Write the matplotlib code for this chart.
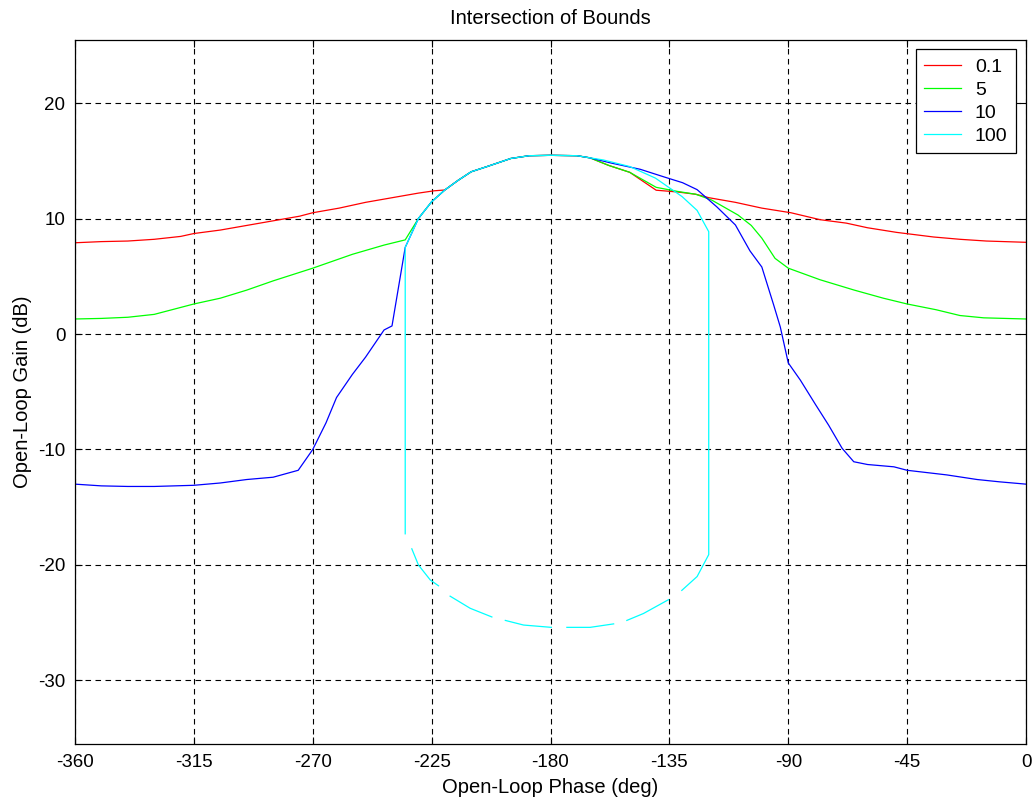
#!/usr/bin/env python3
"""Nichols-style 'Intersection of Bounds' plot, redrawn from the reference picture."""
import numpy as np
import matplotlib
matplotlib.use("Agg")
import matplotlib.pyplot as plt

plt.rcParams.update({"font.family": ["Liberation Sans", "DejaVu Sans"], "font.size": 13.5,
                     "axes.unicode_minus": False})

nan = np.nan

# shared top of the bound (all four curves run along it)
peak_deg = [-220, -215, -210, -204, -195, -188, -180, -170]
peak_db = [12.47, 13.3, 14.05, 14.5, 15.2, 15.44, 15.47, 15.44]

# 0.1
red_left_deg = [-360, -350, -340, -330, -320, -315, -305, -295, -285, -275, -270, -260, -250, -240, -230, -224]
red_left_db = [7.9, 8.0, 8.05, 8.2, 8.45, 8.7, 9.0, 9.4, 9.8, 10.2, 10.5, 10.9, 11.4, 11.8, 12.2, 12.4]
red_right_deg = [-165, -158, -150, -140, -132, -125, -120, -110, -100, -89, -78, -68, -60, -49, -35, -25, -15, 0]
red_right_db = [15.25, 14.6, 14.0, 12.45, 12.3, 12.1, 11.8, 11.4, 10.9, 10.5, 9.9, 9.6, 9.2, 8.8, 8.4, 8.2, 8.05, 7.94]

# 5
green_left_deg = [-360, -350, -340, -330, -315, -305, -295, -285, -270, -255, -243, -235, -230, -225]
green_left_db = [1.3, 1.35, 1.45, 1.7, 2.6, 3.1, 3.8, 4.6, 5.7, 6.9, 7.7, 8.15, 10.0, 11.45]
green_right_deg = [-165, -158, -150, -140, -132, -125, -119, -109, -104, -100, -95, -90, -78, -65, -54, -45, -34, -25, -16, 0]
green_right_db = [15.25, 14.6, 14.0, 12.7, 12.35, 12.1, 11.6, 10.3, 9.4, 8.3, 6.55, 5.7, 4.7, 3.8, 3.1, 2.6, 2.1, 1.6, 1.4, 1.3]

# 10
blue_left_deg = [-360, -350, -340, -330, -315, -305, -295, -285, -275.5, -270, -265, -261, -255, -250, -243, -240, -235, -230, -225]
blue_left_db = [-13.0, -13.15, -13.2, -13.2, -13.1, -12.9, -12.6, -12.4, -11.8, -10.0, -7.7, -5.5, -3.5, -2.0, 0.35, 0.7, 7.5, 10.0, 11.45]
blue_right_deg = [-165, -157, -146, -137, -130, -124.5, -117, -110, -104.5, -100, -95.5, -93, -90, -85.4, -79.7,
                  -74.7, -69.6, -65.2, -60, -50, -45, -30, -18.5, -10, 0]
blue_right_db = [15.25, 14.8, 14.26, 13.6, 13.1, 12.5, 11.0, 9.44, 7.2, 5.8, 2.5, 0.6, -2.5, -4.0, -6.1,
                 -7.9, -9.9, -11.06, -11.3, -11.5, -11.8, -12.2, -12.6, -12.8, -13.0]

# 100 (closed bound, lower arc drawn with gaps)
cyan_left_deg = [-235, -235, -230, -225]
cyan_left_db = [-17.3, 7.5, 10.0, 11.45]
cyan_right_deg = [-165, -160, -150, -140.3, -130.2, -124.5, -120.1, -120.1, -124.5, -130.3, nan,
                  -135.3, -144.8, -151.1, nan, -156.1, -165, -173.8, nan, -179.7, -190.2, -197.1, nan,
                  -202.2, -210.4, -218, nan, -222.4, -225.5, -230, -232.5]
cyan_right_db = [15.25, 15.07, 14.5, 13.5, 11.9, 10.7, 8.86, -19.1, -21.0, -22.2, nan,
                 -23.0, -24.2, -24.8, nan, -25.1, -25.4, -25.4, nan, -25.4, -25.2, -24.8, nan,
                 -24.5, -23.75, -22.7, nan, -21.8, -21.3, -20.0, -18.6]

series = [
    ("0.1", red_left_deg, red_left_db, red_right_deg, red_right_db, "#ff0000"),
    ("5", green_left_deg, green_left_db, green_right_deg, green_right_db, "#00ff00"),
    ("10", blue_left_deg, blue_left_db, blue_right_deg, blue_right_db, "#0000ff"),
    ("100", cyan_left_deg, cyan_left_db, cyan_right_deg, cyan_right_db, "#00ffff"),
]

fig = plt.figure(figsize=(10.33, 8.0), dpi=100)
ax = fig.add_axes([75 / 1033, 1 - 744 / 800, (1026 - 75) / 1033, (744 - 39.5) / 800])

for label, ld, lg, rd, rg, col in series:
    x = np.concatenate([ld, peak_deg, rd])
    y = np.concatenate([lg, peak_db, rg])
    ax.plot(x, y, color=col, lw=0.9, label=label)

ax.set_xlim(-360, 0)
ax.set_ylim(-35.5, 25.5)
ax.set_xticks(np.arange(-360, 1, 45))
ax.set_yticks(np.arange(-30, 21, 10))
ax.grid(True, color="k", ls=(0, (5, 4)), lw=0.8)
ax.tick_params(direction="in", top=True, right=True, length=5, width=0.8, labelsize=13.5)
ax.tick_params(axis="x", pad=7)
ax.tick_params(axis="y", pad=7)
for sp in ax.spines.values():
    sp.set_linewidth(0.9)

ax.set_title("Intersection of Bounds", pad=11, fontsize=14.5)
ax.set_xlabel("Open-Loop Phase (deg)", labelpad=5, fontsize=14.5)
ax.set_ylabel("Open-Loop Gain (dB)", labelpad=4, fontsize=14.5)

leg = ax.legend(loc="upper right", fancybox=False, framealpha=1, edgecolor="k", fontsize=14,
                borderaxespad=0.5, handlelength=1.9, handletextpad=0.7, labelspacing=0.28,
                borderpad=0.45)
leg.get_frame().set_linewidth(0.9)

fig.savefig("out.png", dpi=100)
